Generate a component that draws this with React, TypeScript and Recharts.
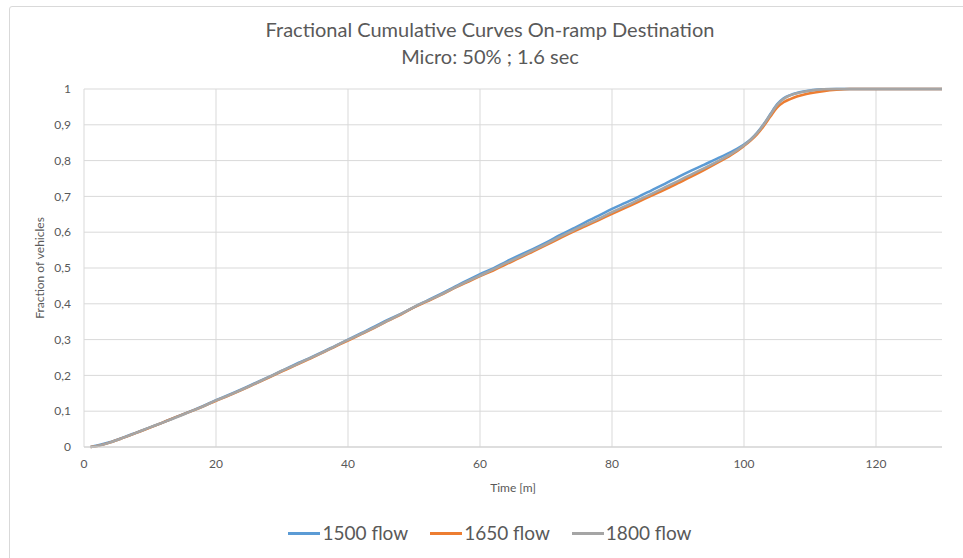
import React from "react";
import { LineChart, Line, XAxis, YAxis, ReferenceLine } from "recharts";

const time = [1, 2, 4, 6, 8, 10, 12, 14, 16, 18, 20, 22, 24, 26, 28, 30, 32, 34, 36, 38, 40, 42, 44, 46, 48, 50, 52, 54, 56, 58, 60, 62, 64, 66, 68, 70, 72, 74, 76, 78, 80, 82, 84, 86, 88, 90, 92, 94, 96, 98, 100, 101, 102, 103, 104, 105, 106, 107, 108, 109, 110, 112, 114, 116, 120, 125, 130];

const flow1500 = [0, 0.004, 0.014, 0.027, 0.041, 0.055, 0.069, 0.084, 0.099, 0.114, 0.131, 0.146, 0.162, 0.179, 0.196, 0.213, 0.231, 0.247, 0.264, 0.282, 0.3, 0.318, 0.336, 0.355, 0.372, 0.391, 0.409, 0.427, 0.446, 0.465, 0.483, 0.499, 0.518, 0.536, 0.553, 0.571, 0.591, 0.609, 0.628, 0.646, 0.665, 0.682, 0.699, 0.717, 0.735, 0.754, 0.772, 0.789, 0.806, 0.824, 0.845, 0.859, 0.878, 0.902, 0.93, 0.957, 0.974, 0.983, 0.989, 0.993, 0.996, 0.999, 1, 1, 1, 1, 1];

const flow1650 = [0, 0.003, 0.013, 0.026, 0.04, 0.054, 0.069, 0.084, 0.098, 0.113, 0.129, 0.144, 0.16, 0.177, 0.194, 0.211, 0.228, 0.245, 0.262, 0.28, 0.297, 0.315, 0.333, 0.352, 0.37, 0.39, 0.407, 0.424, 0.443, 0.46, 0.477, 0.493, 0.511, 0.528, 0.546, 0.564, 0.582, 0.6, 0.617, 0.634, 0.651, 0.668, 0.685, 0.702, 0.719, 0.737, 0.755, 0.774, 0.794, 0.815, 0.841, 0.856, 0.874, 0.897, 0.923, 0.948, 0.963, 0.972, 0.979, 0.984, 0.988, 0.994, 0.998, 1, 1, 1, 1];

const flow1800 = [0, 0.003, 0.013, 0.026, 0.04, 0.055, 0.069, 0.083, 0.098, 0.113, 0.13, 0.145, 0.161, 0.178, 0.195, 0.213, 0.229, 0.246, 0.263, 0.281, 0.299, 0.316, 0.334, 0.353, 0.371, 0.391, 0.408, 0.425, 0.444, 0.462, 0.479, 0.496, 0.514, 0.531, 0.549, 0.567, 0.586, 0.604, 0.621, 0.638, 0.656, 0.673, 0.69, 0.707, 0.725, 0.743, 0.761, 0.779, 0.798, 0.818, 0.843, 0.858, 0.877, 0.901, 0.928, 0.955, 0.972, 0.982, 0.988, 0.992, 0.995, 0.999, 1, 1, 1, 1, 1];

const xTicks = [0, 20, 40, 60, 80, 100, 120];
const xMax = 130;
const yTicks = [0, 0.1, 0.2, 0.3, 0.4, 0.5, 0.6, 0.7, 0.8, 0.9, 1];

const seriesNames = ["1500 flow", "1650 flow", "1800 flow"];
const seriesKeys = ["f1500", "f1650", "f1800"];
const seriesColors = ["#5B9BD5", "#ED7D31", "#A5A5A5"];

const titleLine1 = "Fractional Cumulative Curves On-ramp Destination";
const titleLine2 = "Micro: 50% ; 1.6 sec";
const xLabel = "Time [m]";
const yLabel = "Fraction of vehicles";

const data = time.map((t, i) => ({
  t,
  f1500: flow1500[i],
  f1650: flow1650[i],
  f1800: flow1800[i],
}));

const FONT = "Lato, 'Liberation Sans', sans-serif";
const TEXT = "#595959";
const GRID = "#d9d9d9";

export default function App() {
  return (
    <div
      style={{
        position: "absolute",
        left: 0,
        top: 0,
        width: 963,
        height: 558,
        overflow: "hidden",
        background: "#fff",
        fontFamily: FONT,
      }}
    >
      <div
        style={{
          position: "absolute",
          left: 9,
          top: 6,
          width: 1000,
          height: 600,
          border: "1px solid #d9d9d9",
          borderRadius: 3,
        }}
      />
      <div
        style={{
          position: "absolute",
          left: 0,
          width: 980,
          top: 16,
          textAlign: "center",
          fontSize: 20,
          color: TEXT,
          lineHeight: "27px",
        }}
      >
        <div>{titleLine1}</div>
        <div>{titleLine2}</div>
      </div>
      <div style={{ position: "absolute", left: 0, top: 0 }}>
        <LineChart
          width={963}
          height={558}
          data={data}
          margin={{ top: 89, right: 21, bottom: 81, left: 24 }}
        >
          {yTicks.map((v) => (
            <ReferenceLine key={"h" + v} y={v} stroke={GRID} strokeWidth={1} />
          ))}
          {xTicks.map((t) => (
            <ReferenceLine key={"v" + t} x={t} stroke={GRID} strokeWidth={1} />
          ))}
          <XAxis
            dataKey="t"
            type="number"
            domain={[0, xMax]}
            ticks={xTicks}
            height={30}
            tickSize={0}
            tickMargin={12}
            axisLine={{ stroke: "#d0d0d0" }}
            tick={{ fill: TEXT, fontSize: 12, fontFamily: FONT }}
            allowDataOverflow
          />
          <YAxis
            type="number"
            domain={[0, 1]}
            ticks={yTicks}
            width={60}
            tickSize={0}
            tickMargin={13}
            axisLine={false}
            tick={{ fill: TEXT, fontSize: 12, fontFamily: FONT }}
            tickFormatter={(v: number) => String(v).replace(".", ",")}
          />
          {seriesKeys.map((k, i) => (
            <Line
              key={k}
              dataKey={k}
              name={seriesNames[i]}
              type="monotone"
              stroke={seriesColors[i]}
              strokeWidth={2.5}
              dot={false}
              isAnimationActive={false}
            />
          ))}
        </LineChart>
      </div>
      <div
        style={{
          position: "absolute",
          left: 84,
          width: 858,
          top: 480,
          textAlign: "center",
          fontSize: 12,
          color: TEXT,
        }}
      >
        {xLabel}
      </div>
      <div
        style={{
          position: "absolute",
          left: 40 - 100,
          top: 268 - 8,
          width: 200,
          textAlign: "center",
          fontSize: 12,
          color: TEXT,
          transform: "rotate(-90deg)",
          transformOrigin: "100px 8px",
          lineHeight: "16px",
        }}
      >
        {yLabel}
      </div>
      <div
        style={{
          position: "absolute",
          left: 0,
          width: 980,
          top: 520,
          display: "flex",
          justifyContent: "center",
          gap: 22,
          fontSize: 19,
          color: TEXT,
          lineHeight: "26px",
        }}
      >
        {seriesNames.map((n, i) => (
          <div key={n} style={{ display: "flex", alignItems: "center" }}>
            <div style={{ width: 32, height: 3, background: seriesColors[i], marginRight: 2 }} />
            <span>{n}</span>
          </div>
        ))}
      </div>
    </div>
  );
}
